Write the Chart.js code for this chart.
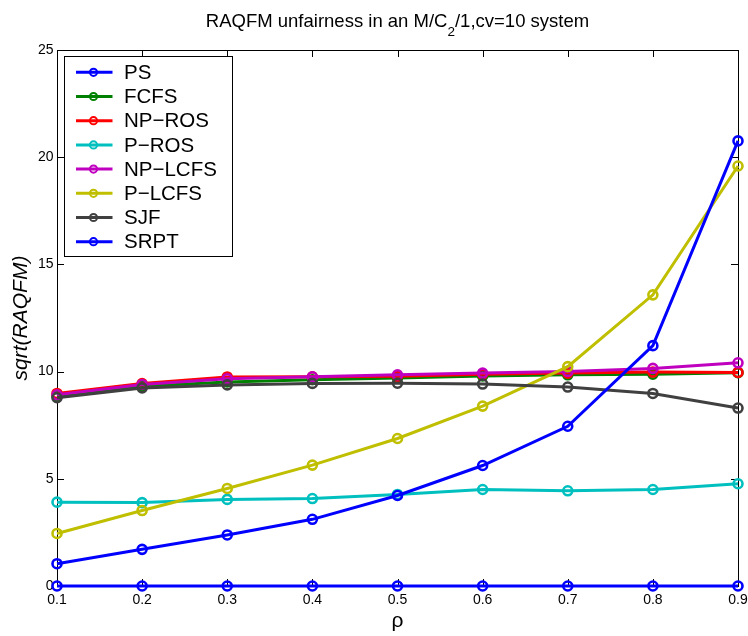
<!DOCTYPE html>
<html><head><meta charset="utf-8">
<script src="https://cdn.jsdelivr.net/npm/chart.js@4/dist/chart.umd.min.js"></script>
<style>html,body{margin:0;padding:0;background:#fff}canvas{display:block}</style>
</head><body>
<canvas id="c" width="748" height="636"></canvas>
<script>
// ---- data ----
const rho = [0.1, 0.2, 0.3, 0.4, 0.5, 0.6, 0.7, 0.8, 0.9];
const xTickValues = [0.1, 0.2, 0.3, 0.4, 0.5, 0.6, 0.7, 0.8, 0.9];
const xTickLabels = ['0.1', '0.2', '0.3', '0.4', '0.5', '0.6', '0.7', '0.8', '0.9'];
const yTickValues = [0, 5, 10, 15, 20, 25];
const yTickLabels = ['0', '5', '10', '15', '20', '25'];
const seriesNames = ['PS', 'FCFS', 'NP\u2212ROS', 'P\u2212ROS', 'NP\u2212LCFS', 'P\u2212LCFS', 'SJF', 'SRPT'];
const PS      = [0, 0, 0, 0, 0, 0, 0, 0, 0];
const FCFS    = [8.85, 9.32, 9.52, 9.62, 9.70, 9.80, 9.85, 9.88, 9.95];
const NP_ROS  = [8.98, 9.44, 9.75, 9.76, 9.78, 9.88, 9.93, 9.98, 9.96];
const P_ROS   = [3.91, 3.89, 4.04, 4.08, 4.27, 4.50, 4.44, 4.50, 4.77];
const NP_LCFS = [8.92, 9.40, 9.67, 9.76, 9.85, 9.93, 10.01, 10.15, 10.41];
const P_LCFS  = [2.45, 3.52, 4.55, 5.64, 6.88, 8.39, 10.23, 13.58, 19.59];
const SJF     = [8.78, 9.24, 9.38, 9.45, 9.46, 9.42, 9.28, 8.98, 8.30];
const SRPT    = [1.04, 1.71, 2.38, 3.11, 4.22, 5.62, 7.45, 11.21, 20.76];
const titleMain = 'RAQFM unfairness in an M/C';
const titleSub = '2';
const titleRest = '/1,cv=10 system';
const yLabel = 'sqrt(RAQFM)';
const xLabel = '\u03C1';

// ---- styles ----
const seriesValues = [PS, FCFS, NP_ROS, P_ROS, NP_LCFS, P_LCFS, SJF, SRPT];
const seriesColors = ['#0000ff', '#008000', '#ff0000', '#00bfbf', '#bf00bf', '#bfbf00', '#404040', '#0000ff'];
const FONT = '"Liberation Sans", Arial, Helvetica, sans-serif';

const datasets = seriesNames.map((name, i) => ({
  label: name,
  data: rho.map((x, k) => ({ x: x, y: seriesValues[i][k] })),
  borderColor: seriesColors[i],
  backgroundColor: 'transparent',
  pointBorderColor: seriesColors[i],
  pointBackgroundColor: 'transparent',
  borderWidth: 3,
  pointRadius: 4.5,
  pointBorderWidth: 2.6,
  pointHoverRadius: 4.5,
  tension: 0,
  clip: false,
  order: seriesNames.length - i
}));

const framePlugin = {
  id: 'frame',
  beforeDatasetsDraw(chart) {
    const { ctx, chartArea: a, scales } = chart;
    ctx.save();
    ctx.strokeStyle = '#000';
    ctx.lineWidth = 1;
    ctx.strokeRect(Math.round(a.left) + 0.5, Math.round(a.top) + 0.5,
                   Math.round(a.right - a.left), Math.round(a.bottom - a.top));
    const tl = 7;
    ctx.beginPath();
    xTickValues.forEach(v => {
      const px = Math.round(scales.x.getPixelForValue(v)) + 0.5;
      ctx.moveTo(px, a.bottom); ctx.lineTo(px, a.bottom - tl);
      ctx.moveTo(px, a.top); ctx.lineTo(px, a.top + tl);
    });
    yTickValues.forEach(v => {
      const py = Math.round(scales.y.getPixelForValue(v)) + 0.5;
      ctx.moveTo(a.left, py); ctx.lineTo(a.left + tl, py);
      ctx.moveTo(a.right, py); ctx.lineTo(a.right - tl, py);
    });
    ctx.stroke();
    ctx.restore();
  },
  afterDatasetsDraw(chart) {
    // legend box inside the axes (upper-left)
    const { ctx } = chart;
    const bx = 64.5, by = 56.5, bw = 168, bh = 200;
    ctx.save();
    ctx.fillStyle = '#fff';
    ctx.fillRect(bx, by, bw, bh);
    ctx.strokeStyle = '#000';
    ctx.lineWidth = 1;
    ctx.strokeRect(bx, by, bw, bh);
    ctx.font = '20.5px ' + FONT;
    ctx.textBaseline = 'middle';
    ctx.textAlign = 'left';
    chart.data.datasets.forEach((ds, i) => {
      const y = 72.3 + i * 24.2;
      ctx.strokeStyle = ds.borderColor;
      ctx.lineWidth = 3;
      ctx.beginPath();
      ctx.moveTo(76, y); ctx.lineTo(112.5, y);
      ctx.stroke();
      ctx.lineWidth = 2;
      ctx.beginPath();
      ctx.arc(93.5, y, 3.6, 0, Math.PI * 2);
      ctx.stroke();
      ctx.fillStyle = '#000';
      ctx.fillText(ds.label, 124, y + 1);
    });
    ctx.restore();
  },
  afterDraw(chart) {
    const { ctx, chartArea: a } = chart;
    ctx.save();
    ctx.fillStyle = '#000';
    ctx.textBaseline = 'alphabetic';
    ctx.textAlign = 'left';
    const mainFont = '18.5px ' + FONT, subFont = '13.5px ' + FONT;
    ctx.font = mainFont;
    const w1 = ctx.measureText(titleMain).width;
    const w3 = ctx.measureText(titleRest).width;
    ctx.font = subFont;
    const w2 = ctx.measureText(titleSub).width;
    let x = (a.left + a.right) / 2 - (w1 + w2 + w3) / 2;
    const base = 27;
    ctx.font = mainFont;
    ctx.fillText(titleMain, x, base); x += w1;
    ctx.font = subFont;
    ctx.fillText(titleSub, x, base + 8.5); x += w2;
    ctx.font = mainFont;
    ctx.fillText(titleRest, x, base);
    ctx.restore();
  }
};

new Chart(document.getElementById('c'), {
  type: 'line',
  data: { datasets: datasets },
  plugins: [framePlugin],
  options: {
    responsive: false,
    animation: false,
    devicePixelRatio: 1,
    layout: { padding: { left: 0, right: 10, top: 50, bottom: 0 } },
    plugins: { legend: { display: false }, title: { display: false }, tooltip: { enabled: false } },
    scales: {
      x: {
        type: 'linear',
        min: 0.1, max: 0.9,
        grid: { display: false, drawTicks: false },
        border: { display: false },
        afterBuildTicks: s => { s.ticks = xTickValues.map(v => ({ value: v })); },
        afterFit: s => { s.height = 50; s.paddingLeft = 0; s.paddingRight = 0; },
        ticks: {
          color: '#000',
          font: { family: FONT, size: 14 },
          padding: 6,
          maxRotation: 0,
          autoSkip: false,
          callback: (v, i) => xTickLabels[i]
        },
        title: { display: true, text: xLabel, color: '#000',
                 font: { family: FONT, size: 21 }, padding: { top: 0, bottom: 2 } }
      },
      y: {
        type: 'linear',
        min: 0, max: 25,
        grid: { display: false, drawTicks: false },
        border: { display: false },
        afterBuildTicks: s => { s.ticks = yTickValues.map(v => ({ value: v })); },
        afterFit: s => { s.width = 57; s.paddingTop = 0; s.paddingBottom = 0; },
        ticks: {
          color: '#000',
          font: { family: FONT, size: 14 },
          padding: 3.5,
          autoSkip: false,
          callback: (v, i) => yTickLabels[i]
        },
        title: { display: true, text: yLabel, color: '#000',
                 font: { family: FONT, size: 21, style: 'italic' }, padding: { top: 9, bottom: 0 } }
      }
    }
  }
});
</script>
</body></html>
